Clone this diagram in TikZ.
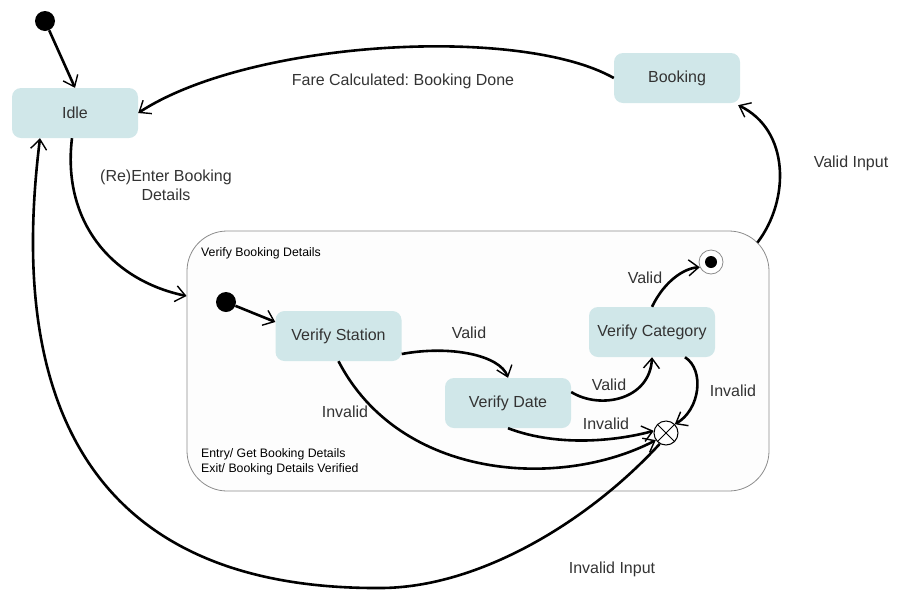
\documentclass[tikz,border=0pt]{standalone}
\usepackage{fontspec}
\setmainfont{Liberation Sans}
\usetikzlibrary{arrows.meta}
\definecolor{boxfill}{RGB}{208,231,233}
\definecolor{txt}{RGB}{51,51,51}
\definecolor{frame}{RGB}{140,140,140}
\definecolor{compfill}{RGB}{253,253,253}
\frenchspacing
\begin{document}
\begin{tikzpicture}[x=1pt,y=-1pt,
  font=\fontsize{16}{19}\selectfont,
  statebox/.style={fill=boxfill, rounded corners=9pt, minimum width=126pt, minimum height=50pt, inner sep=0pt, text=txt},
  tr/.style={line width=2.6pt, -{Straight Barb[length=10pt,width=16pt,line width=1.4pt]}},
  lbl/.style={text=txt, inner sep=0pt},
  smalltxt/.style={font=\fontsize{12.3}{15}\selectfont, text=black, anchor=west, inner sep=0pt, align=left},
  dot/.style={circle, fill=black, minimum size=20pt, inner sep=0pt}]
\useasboundingbox (0,0) rectangle (902,603);

% composite state
\node[draw=frame, line width=0.8pt, fill=compfill, rounded corners=40pt, minimum width=582pt, minimum height=260pt, inner sep=0pt] (comp) at (478,361) {};
\node[smalltxt] (comptitle) at (201,253.5) {Verify Booking Details};
\node[smalltxt] (compact) at (201,462) {Entry/ Get Booking Details\\Exit/ Booking Details Verified};

% states
\node[dot] (init) at (45,21) {};
\node[statebox] (idle) at (75,113) {\raisebox{-1pt}{Idle}};
\node[statebox] (booking) at (677,78) {\raisebox{-1pt}{Booking}};
\node[dot] (init2) at (226,302) {};
\node[statebox] (station) at (338.5,336) {\raisebox{-1pt}{Verify Station}};
\node[statebox] (date) at (508,403) {\raisebox{-1pt}{Verify Date}};
\node[statebox] (category) at (652,332) {\raisebox{-1pt}{Verify Category}};
\node[circle, draw=frame, line width=0.8pt, fill=white, minimum size=24pt, inner sep=0pt] (final) at (711,262) {};
\fill (final.center) circle (6pt);
\node[circle, draw=black, line width=1pt, fill=white, minimum size=24pt, inner sep=0pt] (term) at (666,433) {};
\draw[line width=1pt] (term.45) -- (term.225) (term.135) -- (term.315);

% transitions
\draw[tr] (init) -- (idle.north);
\draw[tr] (booking.west) .. controls (520,25) and (250,40) .. (idle.east);
\draw[tr] ([xshift=-3pt]idle.south) .. controls (62,220) and (110,280) .. ([yshift=65pt]comp.west);
\draw[tr] ([xshift=-12pt,yshift=-12pt]comp.north east) .. controls (790,200) and (790,130) .. ([xshift=-2pt,yshift=-2pt]booking.south east);
\draw[tr] (term.240) .. controls (590,520) and (480,588) .. (380,588)
  .. controls (20,590) and (20,300) .. ([xshift=-35pt]idle.south);
\draw[tr] (init2) -- ([yshift=14pt]station.west);
\draw[tr] ([yshift=-18pt]station.east) .. controls (450,345) and (500,355) .. (date.north);
\draw[tr] (station.south) .. controls (400,480) and (560,490) .. (term.215);
\draw[tr] ([yshift=11pt]date.east) .. controls (600,410) and (650,400) .. (category.south);
\draw[tr] (date.south) .. controls (560,448) and (620,440) .. (term.170);
\draw[tr] ([xshift=33pt]category.south) .. controls (705,370) and (700,410) .. (term.45);
\draw[tr] (category.north) .. controls (665,280) and (685,268) .. (final.205);

% labels
\node[lbl] (l1) at (403,81) {Fare Calculated: Booking Done};
\node[lbl, align=center] (l2) at (166,185) {(Re)Enter Booking\\Details};
\node[lbl] (l3) at (851,163) {Valid Input};
\node[lbl] (l4) at (612,569) {Invalid Input};
\node[lbl] (l5) at (469,333) {Valid};
\node[lbl] (l6) at (345,412) {Invalid};
\node[lbl] (l7) at (609,385) {Valid};
\node[lbl] (l8) at (606,424) {Invalid};
\node[lbl] (l9) at (733,391) {Invalid};
\node[lbl] (l10) at (645,278) {Valid};
\end{tikzpicture}
\end{document}
